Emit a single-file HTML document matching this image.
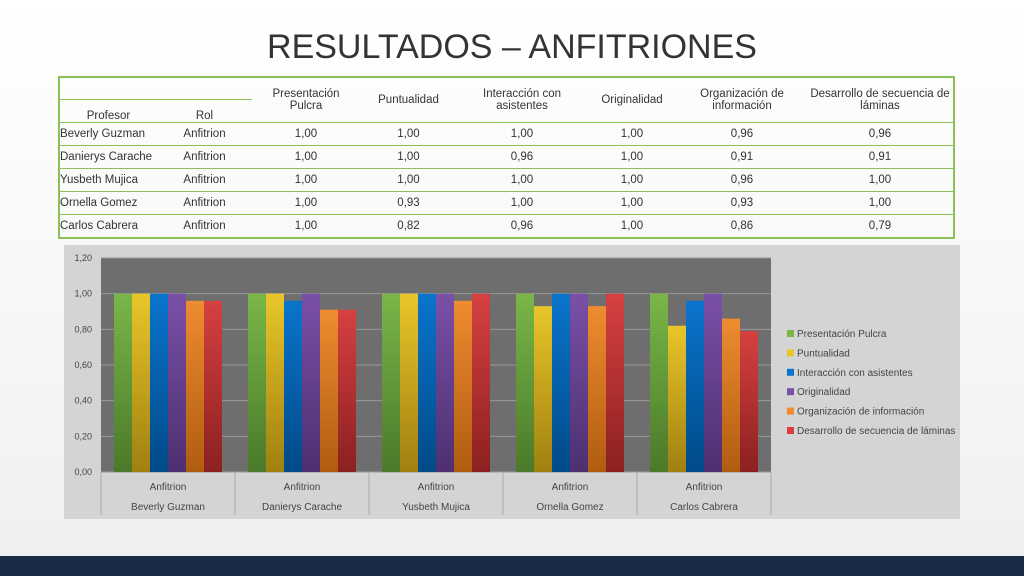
<!DOCTYPE html>
<html><head><meta charset="utf-8"><style>
body{margin:0;width:1024px;height:576px;overflow:hidden;background:linear-gradient(#ffffff,#eef0f0);font-family:"Liberation Sans",sans-serif;position:relative}
#title{position:absolute;left:0;width:1024px;top:28px;text-align:center;font-size:34px;color:#333}
table{position:absolute;left:58px;top:76px;border-collapse:collapse;font-size:11.5px;color:#333;border:2px solid #8cbf58}
td{padding:0;text-align:center;height:22px;border-top:1px solid #8cbf58}
td.n{text-align:left}
#bottom{position:absolute;left:0;top:556px;width:1024px;height:20px;background:#1c2b45}
</style></head><body>
<div id="title">RESULTADOS – ANFITRIONES</div>
<table>
<tr style="height:22px"><td colspan="2" style="border-top:none;border-bottom:1px solid #8cbf58;height:21px"></td>
<td rowspan="2" style="width:108px">Presentación<br>Pulcra</td><td rowspan="2" style="width:97px">Puntualidad</td><td rowspan="2" style="width:130px">Interacción con<br>asistentes</td><td rowspan="2" style="width:90px">Originalidad</td><td rowspan="2" style="width:130px">Organización de<br>información</td><td rowspan="2" style="width:146px">Desarrollo de secuencia de<br>láminas</td></tr>
<tr><td style="width:97px;border:none;vertical-align:bottom">Profesor</td><td style="width:95px;border:none;vertical-align:bottom">Rol</td></tr>
<tr><td class="n">Beverly Guzman</td><td>Anfitrion</td><td>1,00</td><td>1,00</td><td>1,00</td><td>1,00</td><td>0,96</td><td>0,96</td></tr>
<tr><td class="n">Danierys Carache</td><td>Anfitrion</td><td>1,00</td><td>1,00</td><td>0,96</td><td>1,00</td><td>0,91</td><td>0,91</td></tr>
<tr><td class="n">Yusbeth Mujica</td><td>Anfitrion</td><td>1,00</td><td>1,00</td><td>1,00</td><td>1,00</td><td>0,96</td><td>1,00</td></tr>
<tr><td class="n">Ornella Gomez</td><td>Anfitrion</td><td>1,00</td><td>0,93</td><td>1,00</td><td>1,00</td><td>0,93</td><td>1,00</td></tr>
<tr><td class="n">Carlos Cabrera</td><td>Anfitrion</td><td>1,00</td><td>0,82</td><td>0,96</td><td>1,00</td><td>0,86</td><td>0,79</td></tr>
</table>
<svg id="chart" width="1024" height="576" style="position:absolute;left:0;top:0"></svg>
<div id="bottom"></div>
<script>
const categories=["Beverly Guzman","Danierys Carache","Yusbeth Mujica","Ornella Gomez","Carlos Cabrera"];
const seriesNames=["Presentación Pulcra","Puntualidad","Interacción con asistentes","Originalidad","Organización de información","Desarrollo de secuencia de láminas"];
const presentacion=[1,1,1,1,1];
const puntualidad=[1,1,1,0.93,0.82];
const interaccion=[1,0.96,1,1,0.96];
const originalidad=[1,1,1,1,1];
const organizacion=[0.96,0.91,0.96,0.93,0.86];
const desarrollo=[0.96,0.91,1,1,0.79];
const yTicks=[0,0.2,0.4,0.6,0.8,1.0,1.2];
const series=[presentacion,puntualidad,interaccion,originalidad,organizacion,desarrollo];
const colors=[["#7ab648","#4a7a2a"],["#e8c62a","#a08010"],["#0a74cc","#004a88"],["#7a50a8","#4e3070"],["#ee8c30","#b05c10"],["#d64040","#8c2020"]];
const svg=document.getElementById('chart');const NS='http://www.w3.org/2000/svg';
function mk(t,a,p){const e=document.createElementNS(NS,t);for(const k in a)e.setAttribute(k,a[k]);(p||svg).appendChild(e);return e;}
const X0=101,X1=771,Y0=472,Y1=258;
const y=v=>Y0-(v/1.2)*(Y0-Y1);
const gw=(X1-X0)/categories.length,bw=18;
const x=(i,j)=>X0+i*gw+(gw-bw*6)/2+j*bw;
const defs=mk('defs',{});
colors.forEach((c,j)=>{const g=mk('linearGradient',{id:'g'+j,x1:0,y1:0,x2:0,y2:1},defs);mk('stop',{offset:0,'stop-color':c[0]},g);mk('stop',{offset:1,'stop-color':c[1]},g);});
let e=mk('rect',{x:64,y:245,width:896,height:274,fill:'#d4d4d4'});


e=mk('rect',{x:X0,y:Y1,width:X1-X0,height:Y0-Y1,fill:'#6e6e6e'});


yTicks.forEach(t=>{
 e=mk('line',{x1:X0,x2:X1,y1:y(t),y2:y(t),stroke:'#999','stroke-width':1});
 
 
 e=mk('text',{x:92,y:y(t)+3,'text-anchor':'end','font-size':9,fill:'#444'});e.textContent=t.toFixed(2).replace('.',',');
 
 
});
series.forEach((s,j)=>s.forEach((v,i)=>{
 e=mk('rect',{x:x(i,j),y:y(v),width:bw,height:Y0-y(v),fill:'url(#g'+j+')'});
 
 
}));
for(let i=0;i<=categories.length;i++){e=mk('line',{x1:X0+i*gw,x2:X0+i*gw,y1:Y0,y2:515,stroke:'#aaa'});
 
 }
categories.forEach((c,i)=>{
 e=mk('text',{x:X0+(i+.5)*gw,y:490,'text-anchor':'middle','font-size':10,fill:'#444'});e.textContent='Anfitrion';
 
 
 e=mk('text',{x:X0+(i+.5)*gw,y:510,'text-anchor':'middle','font-size':10,fill:'#444'});e.textContent=c;
 
 
});
seriesNames.forEach((n,j)=>{
 const ly=334+j*19.4;
 e=mk('rect',{x:787,y:ly-4,width:7,height:7,fill:colors[j][0]});
 
 
 e=mk('text',{x:797,y:ly+3,'font-size':10,fill:'#444'});e.textContent=n;
 
 
});
</script>
</body></html>
